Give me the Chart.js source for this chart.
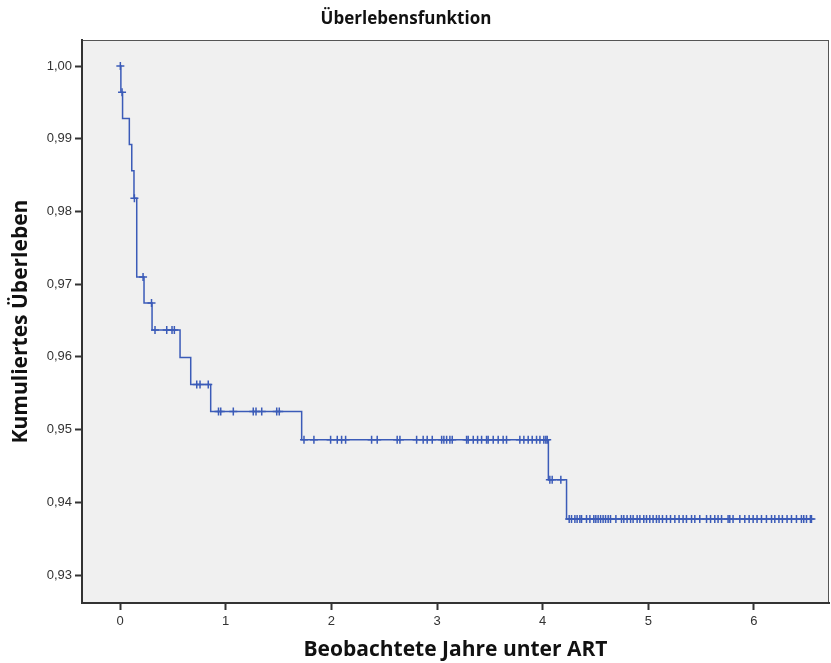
<!DOCTYPE html>
<html>
<head>
<meta charset="utf-8">
<script src="https://cdn.jsdelivr.net/npm/chart.js@4/dist/chart.umd.min.js"></script>
<style>
  html, body { margin: 0; padding: 0; background: #fff; overflow: hidden; }
  #wrap { width: 831px; height: 663px; }
  canvas { display: block; }
</style>
</head>
<body>
<div id="wrap"><canvas id="km" width="831" height="663"></canvas></div>
<script>
// Kaplan-Meier steps: time of event (years) and survival after it
const eventTimes = [0, 0.008, 0.024, 0.088, 0.111, 0.132, 0.158, 0.227, 0.303, 0.568, 0.669, 0.858, 1.719, 4.054, 4.226, 6.544];
const eventSurvival = [1.0, 0.9964, 0.9928, 0.9892, 0.9856, 0.9818, 0.9710, 0.9674, 0.9637, 0.9599, 0.9562, 0.9525, 0.9486, 0.9431, 0.9377, 0.9377];

// censored observations (years)
const censorTimes = [
  0.003, 0.019, 0.136, 0.218, 0.298,
  0.331, 0.442, 0.492, 0.514,
  0.726, 0.757, 0.835,
  0.932, 0.953, 1.072, 1.261, 1.287, 1.341, 1.483, 1.507,
  1.741, 1.835, 1.993, 2.056, 2.097, 2.135, 2.381, 2.434, 2.623, 2.649,
  2.807, 2.869, 2.907, 2.955, 3.044, 3.065, 3.091, 3.122, 3.144, 3.280,
  3.295, 3.343, 3.384, 3.422, 3.469, 3.484, 3.532, 3.579, 3.626, 3.658,
  3.784, 3.822, 3.863, 3.901, 3.942, 3.974, 4.011, 4.030, 4.043,
  4.068, 4.090, 4.172,
  4.251, 4.273, 4.305, 4.326, 4.352, 4.368, 4.415, 4.447, 4.484, 4.503,
  4.525, 4.548, 4.572, 4.595, 4.620, 4.642, 4.693, 4.746, 4.768, 4.799,
  4.832, 4.856, 4.894, 4.920, 4.957, 4.983, 5.014, 5.045, 5.077, 5.102,
  5.134, 5.172, 5.210, 5.251, 5.291, 5.329, 5.361, 5.409, 5.440, 5.487,
  5.551, 5.589, 5.629, 5.660, 5.693, 5.755, 5.771, 5.802, 5.866, 5.913,
  5.954, 5.992, 6.029, 6.071, 6.118, 6.166, 6.197, 6.236, 6.269, 6.313,
  6.355, 6.402, 6.449, 6.471, 6.497, 6.534, 6.544
];

const xTicks = [0, 1, 2, 3, 4, 5, 6];
const yTicks = [0.93, 0.94, 0.95, 0.96, 0.97, 0.98, 0.99, 1.00];

const titleText = "Überlebensfunktion";
const xTitle = "Beobachtete Jahre unter ART";
const yTitle = "Kumuliertes Überleben";

const BLUE = "#3b5bb8";

// survival level of the curve at time t
function survivalAt(t) {
  let s = eventSurvival[0];
  for (let i = 0; i < eventTimes.length; i++) {
    if (eventTimes[i] <= t) s = eventSurvival[i];
  }
  return s;
}

const curve = eventTimes.map((t, i) => ({ x: t, y: eventSurvival[i] }));
const censored = censorTimes.map((t) => ({ x: t, y: survivalAt(t) }));

// grey plot panel + title drawn slightly left of centre like the original
const plotBg = {
  id: "plotBg",
  beforeDraw(chart) {
    const { ctx, chartArea: a } = chart;
    ctx.save();
    ctx.fillStyle = "#f0f0f0";
    ctx.fillRect(a.left, a.top, a.right - a.left, a.bottom - a.top);
    ctx.strokeStyle = "#555";
    ctx.lineWidth = 1;
    ctx.strokeRect(a.left + 0.5, a.top + 0.5, a.right - a.left - 1, a.bottom - a.top - 1);
    ctx.fillStyle = "#111";
    ctx.font = "bold 17px 'Open Sans'";
    ctx.textAlign = "center";
    ctx.textBaseline = "middle";
    ctx.fillText(titleText, 406, 19);
    ctx.restore();
  },
};

new Chart(document.getElementById("km"), {
  type: "line",
  data: {
    datasets: [
      {
        data: curve,
        stepped: "before",
        borderColor: BLUE,
        borderWidth: 1.5,
        pointRadius: 0,
        fill: false,
      },
      {
        type: "scatter",
        data: censored,
        pointStyle: "cross",
        pointRadius: 4,
        borderColor: BLUE,
        borderWidth: 1.5,
        showLine: false,
      },
    ],
  },
  options: {
    responsive: false,
    animation: false,
    layout: { autoPadding: false, padding: { left: 0, right: 2, top: 40, bottom: 0 } },
    plugins: {
      legend: { display: false },
      tooltip: { enabled: false },
      title: { display: false },
    },
    scales: {
      x: {
        type: "linear",
        min: -0.36,
        max: 6.71,
        afterBuildTicks: (s) => { s.ticks = xTicks.map((v) => ({ value: v })); },
        afterFit: (s) => { s.height = 60; },
        grid: { display: true, drawOnChartArea: false, drawTicks: true, tickLength: 7, tickColor: "#333", tickWidth: 2 },
        border: { display: true, color: "#333", width: 2 },
        ticks: {
          color: "#333",
          padding: 4,
          font: { family: "Liberation Sans", size: 13 },
          callback: (v) => String(v),
        },
        title: {
          display: true,
          text: xTitle,
          color: "#111",
          font: { family: "Open Sans", size: 21, weight: "bold" },
          padding: { top: 0, bottom: 0 },
        },
      },
      y: {
        type: "linear",
        min: 0.92615,
        max: 1.00358,
        afterBuildTicks: (s) => { s.ticks = yTicks.map((v) => ({ value: v })); },
        afterFit: (s) => { s.width = 82; },
        grid: { display: true, drawOnChartArea: false, drawTicks: true, tickLength: 7, tickColor: "#333", tickWidth: 2 },
        border: { display: true, color: "#333", width: 2 },
        ticks: {
          color: "#333",
          padding: 3,
          font: { family: "Liberation Sans", size: 13 },
          callback: (v) => v.toFixed(2).replace(".", ","),
        },
        title: {
          display: true,
          text: yTitle,
          color: "#111",
          font: { family: "Open Sans", size: 21, weight: "bold" },
          padding: { top: 8, bottom: 0 },
        },
      },
    },
  },
  plugins: [plotBg],
});
</script>
</body>
</html>
